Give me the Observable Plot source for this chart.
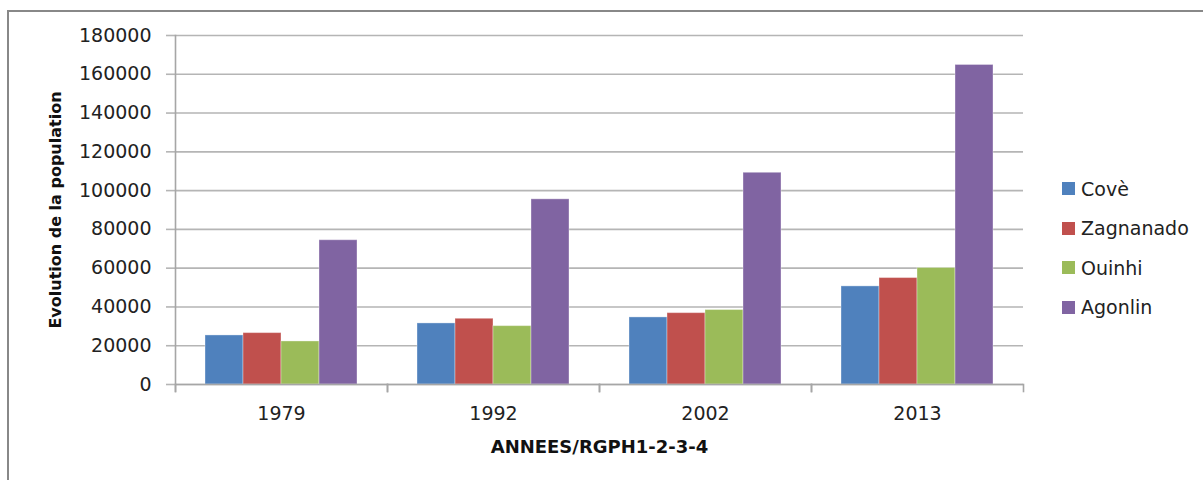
<!DOCTYPE html>
<html>
<head>
<meta charset="utf-8">
<script src="https://cdn.jsdelivr.net/npm/d3@7"></script>
<script src="https://cdn.jsdelivr.net/npm/@observablehq/plot@0.6"></script>
<style>
  html, body { margin: 0; padding: 0; background: #fff; overflow: hidden; }
  #wrap { position: relative; width: 1203px; height: 480px; }
  #border { position: absolute; left: 7px; top: 10px; width: 1205px; height: 500px; border: 2px solid #888; box-sizing: border-box; }
  #chart { position: absolute; left: 0; top: 0; }
  #legend { position: absolute; left: 1062px; top: 169px; font-family: "DejaVu Sans", sans-serif; font-size: 19px; color: #222; }
  .item { display: flex; align-items: center; height: 39.5px; }
  .sw { width: 13px; height: 13px; margin-right: 6px; }
</style>
</head>
<body>
<div id="wrap">
  <div id="border"></div>
  <div id="chart"></div>
  <div id="legend"></div>
</div>
<script>
const years = ["1979", "1992", "2002", "2013"];
const series = ["Covè", "Zagnanado", "Ouinhi", "Agonlin"];
const cove = [25300, 31500, 34600, 50600];
const zagnanado = [26500, 33900, 36800, 54900];
const ouinhi = [22200, 30100, 38400, 60100];
const agonlin = [74400, 95500, 109200, 164800];
const colors = ["#4F81BD", "#C0504D", "#9BBB59", "#8064A2"];
const yTicks = [0, 20000, 40000, 60000, 80000, 100000, 120000, 140000, 160000, 180000];
const xTitle = "ANNEES/RGPH1-2-3-4";
const yTitle = "Evolution de la population";

const valuesBySeries = [cove, zagnanado, ouinhi, agonlin];
const data = [];
years.forEach((yr, i) => {
  series.forEach((s, j) => data.push({year: yr, series: s, value: valuesBySeries[j][i]}));
});

const gridColor = "#b5b5b5";
const axisColor = "#a6a6a6";

const chart = Plot.plot({
  width: 1203,
  height: 480,
  marginLeft: 174,
  marginRight: 180,
  marginTop: 35,
  marginBottom: 96,
  style: {background: "transparent", fontFamily: "DejaVu Sans, sans-serif", color: "#222"},
  fx: {domain: years, padding: 0, label: null, axis: null},
  x: {domain: series, paddingInner: 0, paddingOuter: 0.739, axis: null},
  y: {domain: [0, 180000], label: null},
  color: {domain: series, range: colors},
  marks: [
    Plot.gridY(yTicks, {stroke: gridColor, strokeOpacity: 1, strokeWidth: 1.6}),
    Plot.axisY(yTicks, {tickSize: 9, tickPadding: 15, fontSize: 19, stroke: gridColor, strokeWidth: 1.6, fill: "#222", tickFormat: d => String(d), label: null}),
    Plot.axisFx({anchor: "bottom", tickSize: 0, tickPadding: 22, fontSize: 19, fill: "#222", label: null}),
    Plot.barY(data, {fx: "year", x: "series", y: "value", fill: "series", stroke: "#ffffff", strokeOpacity: 0.35, strokeWidth: 1}),
    Plot.ruleY([0], {stroke: axisColor, strokeWidth: 1.6}),
    Plot.frame({anchor: "left", insetTop: 349, insetBottom: -7, stroke: axisColor, strokeWidth: 1.6}),
    Plot.frame({anchor: "right", insetTop: 349, insetBottom: -7, stroke: axisColor, strokeWidth: 1.6}),
    Plot.frame({anchor: "left", fx: () => years[0], insetBottom: -7, stroke: axisColor, strokeWidth: 1.6}),
    Plot.text([yTitle], {facet: "super", frameAnchor: "left", textAnchor: "middle", rotate: -90, dx: -120, fontSize: 16, fontWeight: "bold", fill: "#111"}),
    Plot.text([xTitle], {facet: "super", frameAnchor: "bottom", textAnchor: "middle", dy: 68, fontSize: 18, fontWeight: "bold", fill: "#111"})
  ]
});
document.getElementById("chart").appendChild(chart);

const legend = document.getElementById("legend");
series.forEach((s, j) => {
  const item = document.createElement("div");
  item.className = "item";
  const sw = document.createElement("div");
  sw.className = "sw";
  sw.style.background = colors[j];
  const label = document.createElement("span");
  label.textContent = s;
  item.appendChild(sw);
  item.appendChild(label);
  legend.appendChild(item);
});
</script>
</body>
</html>
